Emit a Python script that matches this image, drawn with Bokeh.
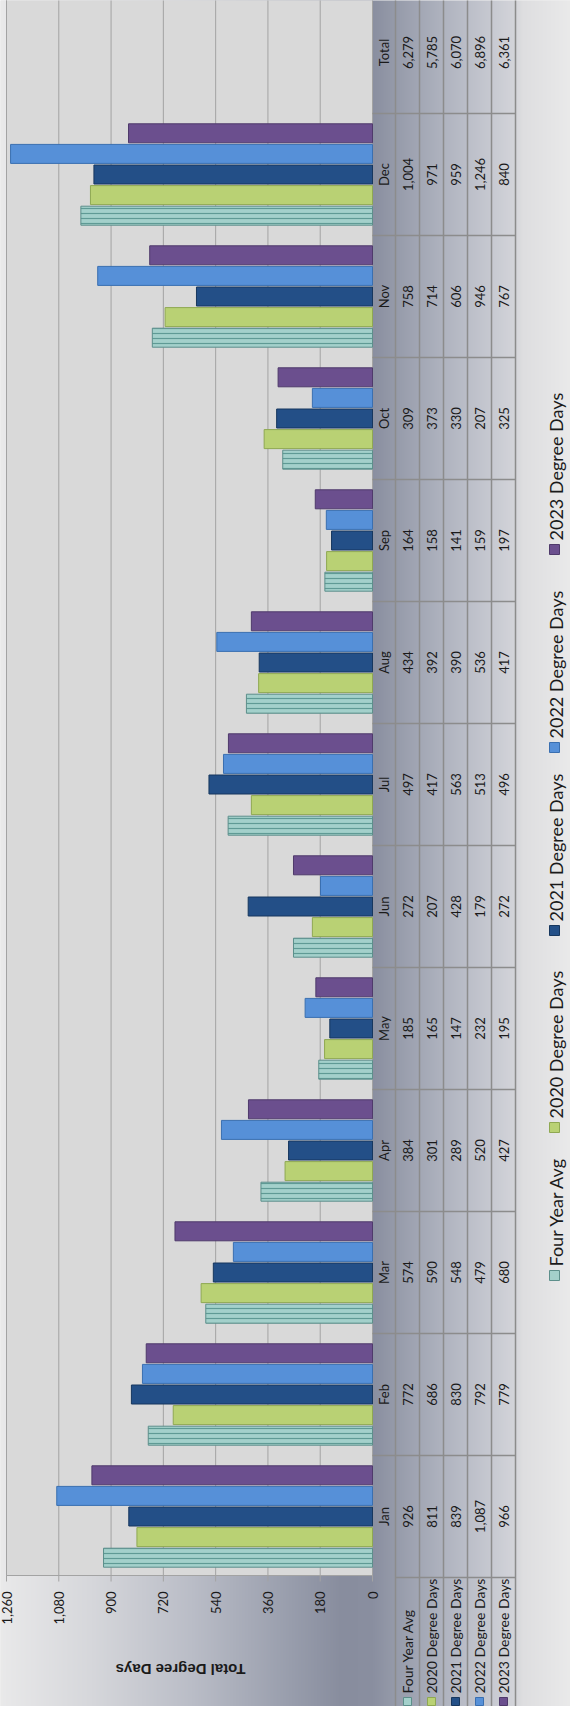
import numpy as np
from bokeh.plotting import figure
from bokeh.models import Range1d
from bokeh.embed import file_html
from bokeh.resources import INLINE
from bokeh.core.properties import value

# ---------------- data ----------------
MONTHS = ["Jan", "Feb", "Mar", "Apr", "May", "Jun", "Jul", "Aug", "Sep", "Oct", "Nov", "Dec"]
SERIES = ["Four Year Avg", "2020 Degree Days", "2021 Degree Days", "2022 Degree Days", "2023 Degree Days"]
FOUR_YEAR_AVG = [926, 772, 574, 384, 185, 272, 497, 434, 164, 309, 758, 1004]
DD_2020 = [811, 686, 590, 301, 165, 207, 417, 392, 158, 373, 714, 971]
DD_2021 = [839, 830, 548, 289, 147, 428, 563, 390, 141, 330, 606, 959]
DD_2022 = [1087, 792, 479, 520, 232, 179, 513, 536, 159, 207, 946, 1246]
DD_2023 = [966, 779, 680, 427, 195, 272, 496, 417, 197, 325, 767, 840]
VALUES = [FOUR_YEAR_AVG, DD_2020, DD_2021, DD_2022, DD_2023]
TICKS = [0, 180, 360, 540, 720, 900, 1080, 1260]
TICK_LABELS = ["0", "180", "360", "540", "720", "900", "1,080", "1,260"]
AXIS_TITLE = "Total Degree Days"
TOTAL_LABEL = "Total"

# ---------------- styles ----------------
FILLS = ["#a3d0cb", "#b9d174", "#234f87", "#5690d8", "#6b4f8e"]
LINES = ["#5d8f8b", "#8fa852", "#17375e", "#3a6fb0", "#4f3a6b"]
FONT = value("Lato")
TXT = "#1a1a1a"
GRID = "#a3a3a3"
TABLE_LINE = "#8c8c8c"

# ---------------- layout (reference pixel coordinates) ----------------
PLOT_L, PLOT_R, PLOT_B = 14, 380, 1583
BAND_PX, BAND_Y0 = 122, 1585
PX_PER_VAL = (PLOT_R - PLOT_L) / 1260.0
COL_X = [403, 427, 451, 475, 499, 523]
LEGEND_Y = [1283, 1135, 938, 755, 557]
LEGEND_X = 563

p = figure(width=570, height=1706, output_backend="svg", toolbar_location=None,
           x_range=Range1d(8, 578), y_range=Range1d(1714, 8),
           x_axis_location=None, y_axis_location=None, min_border=0)
p.outline_line_color = None
p.background_fill_color = "#e6e6e6"
p.border_fill_color = "#e6e6e6"
p.xgrid.visible = False
p.ygrid.visible = False
p.extra_x_ranges = {"val": Range1d((PLOT_R - 8) / PX_PER_VAL, (PLOT_R - 578) / PX_PER_VAL)}
p.extra_y_ranges = {"band": Range1d((BAND_Y0 - 1714) / BAND_PX, (BAND_Y0 - 8) / BAND_PX)}

# background gradient (horizontal)
sx = [0, 14, 100, 200, 300, 350, 380, 403, 450, 500, 523, 530, 586]
sc = [(236, 236, 236), (232, 232, 233), (214, 215, 219), (186, 189, 199), (152, 157, 172),
      (136, 141, 158), (138, 143, 160), (150, 155, 170), (175, 179, 191), (200, 202, 210),
      (212, 213, 218), (222, 222, 224), (236, 236, 236)]
xs = np.arange(586) + 0.5
img = np.empty((1, 586), dtype=np.uint32)
view = img.view(dtype=np.uint8).reshape((1, 586, 4))
for k in range(3):
    view[0, :, k] = np.interp(xs, sx, [c[k] for c in sc]).astype(np.uint8)
view[0, :, 3] = 255
p.image_rgba(image=[img], x=0, y=-2, dw=586, dh=16, y_range_name="band")

# plot area
p.quad(left=PLOT_L, right=PLOT_R, top=0, bottom=PLOT_B, fill_color="#d9d9d9", line_color=None)
p.segment(x0=TICKS, x1=TICKS, y0=0, y1=PLOT_B, x_range_name="val", line_color=GRID, line_width=1)
p.segment(x0=TICKS, x1=TICKS, y0=PLOT_B, y1=PLOT_B + 6, x_range_name="val", line_color=GRID, line_width=1)
p.segment(x0=[PLOT_L], x1=[PLOT_R], y0=[PLOT_B], y1=[PLOT_B], line_color=GRID, line_width=1)
p.segment(x0=[PLOT_L], x1=[PLOT_L], y0=[0], y1=[PLOT_B], line_color=GRID, line_width=1)

# bars
STEP = 20.6 / BAND_PX
BAR_H = 19.0 / BAND_PX
yc = np.arange(len(MONTHS)) + 0.5
for i, vals in enumerate(VALUES):
    kw = {}
    if i == 0:
        kw = dict(hatch_pattern="horizontal_line", hatch_color="#5f9a95", hatch_scale=5, hatch_weight=1.2)
    p.hbar(y=yc + (i - 2) * STEP, left=0, right=vals, height=BAR_H,
           x_range_name="val", y_range_name="band",
           fill_color=FILLS[i], line_color=LINES[i], line_width=1, **kw)

# value axis labels and title
p.text(x=TICKS, y=[1599] * len(TICKS), text=TICK_LABELS, x_range_name="val",
       angle=np.pi / 2, text_align="right", text_baseline="middle",
       text_font=FONT, text_font_size="13px", text_color=TXT)
p.text(x=[188], y=[1677], text=[AXIS_TITLE], angle=np.pi, text_align="center",
       text_baseline="middle", text_font=value("Liberation Sans"), text_font_style="bold",
       text_font_size="15px", text_color=TXT)

# data table
p.segment(x0=COL_X, x1=COL_X, y0=0, y1=1720, line_color=TABLE_LINE, line_width=1.5)
kb = np.arange(1, len(MONTHS) + 1)
p.segment(x0=[PLOT_R] * len(kb), x1=[COL_X[-1]] * len(kb), y0=kb, y1=kb,
          y_range_name="band", line_color=TABLE_LINE, line_width=1.5)
p.segment(x0=[COL_X[0]], x1=[COL_X[-1]], y0=[0], y1=[0], y_range_name="band",
          line_color=TABLE_LINE, line_width=1.5)

rows = MONTHS + [TOTAL_LABEL]
yr = np.arange(len(rows)) + 0.5
p.text(x=[(PLOT_R + COL_X[0]) / 2] * len(rows), y=yr, text=rows, y_range_name="band",
       angle=np.pi / 2, text_align="center", text_baseline="middle",
       text_font=FONT, text_font_size="13px", text_color=TXT)
for i, vals in enumerate(VALUES):
    cx = (COL_X[i] + COL_X[i + 1]) / 2
    cells = [f"{v:,}" for v in vals] + [f"{sum(vals):,}"]
    p.text(x=[cx] * len(cells), y=yr, text=cells, y_range_name="band",
           angle=np.pi / 2, text_align="center", text_baseline="middle",
           text_font=FONT, text_font_size="13px", text_color=TXT)

hx = [(COL_X[i] + COL_X[i + 1]) / 2 for i in range(len(SERIES))]
p.rect(x=hx, y=[1709] * 5, width=8, height=8, width_units="screen", height_units="screen",
       fill_color=FILLS, line_color=LINES, line_width=1)
p.text(x=hx, y=[1701] * 5, text=SERIES, angle=np.pi / 2, text_align="left",
       text_baseline="middle", text_font=FONT, text_font_size="14px", text_color=TXT)

# legend
p.rect(x=[LEGEND_X - 1] * 5, y=LEGEND_Y, width=10, height=10, width_units="screen", height_units="screen",
       fill_color=FILLS, line_color=LINES, line_width=1)
p.text(x=[LEGEND_X] * 5, y=[v - 9 for v in LEGEND_Y], text=SERIES, angle=np.pi / 2,
       text_align="left", text_baseline="middle", text_font=FONT,
       text_font_size="18px", text_color=TXT)

open("out.html", "w").write(file_html(p, INLINE))
